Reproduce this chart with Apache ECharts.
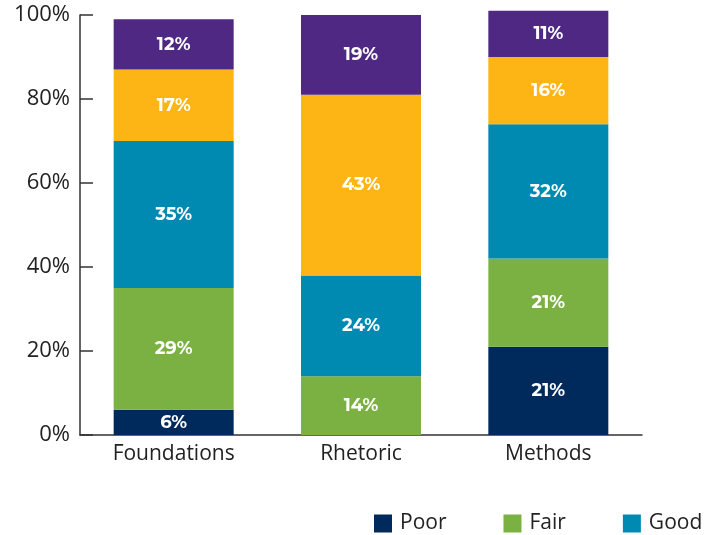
<!DOCTYPE html>
<html><head><meta charset="utf-8">
<script src="https://cdn.jsdelivr.net/npm/echarts@6/dist/echarts.min.js"></script>
<style>html,body{margin:0;padding:0;background:#fff}#c{width:704px;height:535px}</style>
</head><body><div id="c"></div>
<script>
const categories = ['Foundations', 'Rhetoric', 'Methods'];
const seriesNames = ['Poor', 'Fair', 'Good', 'Very Good', 'Excellent'];
const poor = [6, 0, 21];
const fair = [29, 14, 21];
const good = [35, 24, 32];
const veryGood = [17, 43, 16];
const excellent = [12, 19, 11];
const yTicks = [0, 20, 40, 60, 80, 100];
const colors = ['#002a5c', '#7ab142', '#0089b1', '#fdb515', '#4e2882'];

const values = [poor, fair, good, veryGood, excellent];
const chart = echarts.init(document.getElementById('c'));
chart.setOption({
  animation: false,
  grid: {left: 80, right: 62, top: 15, bottom: 100, containLabel: false},
  legend: {
    data: ['Poor', 'Fair', 'Good'],
    left: 369, top: 508, width: 400, padding: [5, 0, 5, 5],
    itemWidth: 18, itemHeight: 18, itemGap: 57,
    icon: 'rect',
    textStyle: {fontFamily: 'Open Sans', fontSize: 21, color: '#222', padding: [0,0,0,3]}
  },
  xAxis: {
    type: 'category', data: categories,
    axisLine: {lineStyle: {color: '#333', width: 1.5}},
    axisTick: {inside: true, length: 10, lineStyle: {color: '#333', width: 1.5}},
    axisLabel: {fontFamily: 'Open Sans', fontSize: 21, color: '#222', margin: 9}
  },
  yAxis: {
    type: 'value', min: yTicks[0], max: yTicks[yTicks.length-1], interval: 20,
    axisLine: {show: true, lineStyle: {color: '#333', width: 1.5}},
    axisTick: {show: true, inside: true, length: 13, lineStyle: {color: '#333', width: 1.5}},
    splitLine: {show: false},
    axisLabel: {fontFamily: 'Open Sans', fontSize: 22, color: '#222', margin: 10, formatter: '{value}%'}
  },
  series: seriesNames.map((n, i) => ({
    name: n, type: 'bar', stack: 'all', barWidth: 120, clip: false,
    itemStyle: {color: colors[i]},
    data: values[i],
    label: {
      show: true, position: 'inside', color: '#fff',
      fontFamily: 'Montserrat, "Open Sans", sans-serif', fontWeight: 'bold', fontSize: 18,
      formatter: p => p.value > 0 ? p.value + '%' : ''
    }
  }))
});
</script></body></html>
